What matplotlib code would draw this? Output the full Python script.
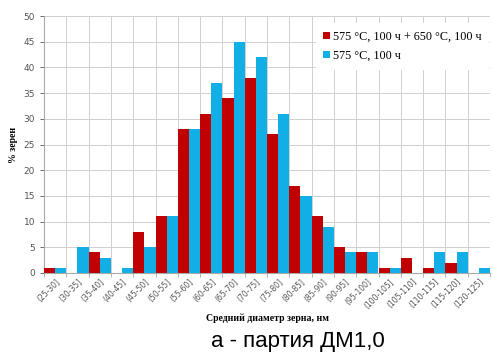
import matplotlib
matplotlib.use('Agg')
import matplotlib.pyplot as plt
import numpy as np

bins = ['(25-30]', '(30-35]', '(35-40]', '(40-45]', '(45-50]', '(50-55]',
        '(55-60]', '(60-65]', '(65-70]', '(70-75]', '(75-80]', '(80-85]',
        '(85-90]', '(90-95]', '(95-100]', '(100-105]', '(105-110]',
        '(110-115]', '(115-120]', '(120-125]']
red_vals = [1, 0, 4, 0, 8, 11, 28, 31, 34, 38, 27, 17, 11, 5, 4, 1, 3, 1, 2, 0]
blue_vals = [1, 5, 3, 1, 5, 11, 28, 37, 45, 42, 31, 15, 9, 4, 4, 1, 0, 4, 4, 1]
red_label = '575 °C, 100 ч + 650 °C, 100 ч'
blue_label = '575 °C, 100 ч'

red_c = '#c00000'
blue_c = '#12aee6'

fig = plt.figure(figsize=(4.93, 3.53), dpi=100)
ax = fig.add_axes([44/493, 1-273/353, 446/493, 257/353])

x = np.arange(len(bins))
w = 0.5
ax.bar(x - w/2, red_vals, w, color=red_c, label=red_label, zorder=3)
ax.bar(x + w/2, blue_vals, w, color=blue_c, label=blue_label, zorder=3)

ax.set_xlim(-0.5, len(bins) - 0.5)
ax.set_ylim(0, 50)
ax.set_yticks(np.arange(0, 51, 5))
ax.set_xticks(x)
ax.set_xticklabels(bins, rotation=45, ha='right', rotation_mode='anchor',
                   fontsize=5.5, color='#555555')
ax.set_xticks(np.arange(-0.5, len(bins), 1), minor=True)
ax.tick_params(axis='y', labelsize=6.5, colors='#555555', length=3, width=0.6)
ax.tick_params(axis='x', which='major', length=0, pad=3)
ax.tick_params(axis='x', which='minor', length=3, width=0.6, color='#aaaaaa')
ax.grid(True, axis='y', color='#d0d0d0', lw=0.7, zorder=0)
ax.grid(True, axis='x', which='minor', color='#d0d0d0', lw=0.7, zorder=0)
for s in ['top', 'right']:
    ax.spines[s].set_visible(False)
ax.spines['left'].set_color('#aaaaaa')
ax.spines['bottom'].set_color('#aaaaaa')

ax.set_ylabel('% зерен', fontsize=7, fontweight='bold', family='Liberation Serif', labelpad=4)
ax.set_xlabel('Средний диаметр зерна, нм', fontsize=7, fontweight='bold',
              family='Liberation Serif', labelpad=2)

leg = ax.legend(loc='upper right', bbox_to_anchor=(1.01, 0.995), frameon=True,
                fancybox=False, edgecolor='white', framealpha=1,
                prop={'family': 'Liberation Serif', 'size': 8.7},
                handlelength=0.5, handleheight=0.5, handletextpad=0.25,
                labelspacing=0.6, borderpad=0.6)

fig.text(298/493, 1-342/353, 'а - партия ДМ1,0', fontsize=16, family='Liberation Sans',
         ha='center', va='center')

fig.savefig('out.png', dpi=100)
